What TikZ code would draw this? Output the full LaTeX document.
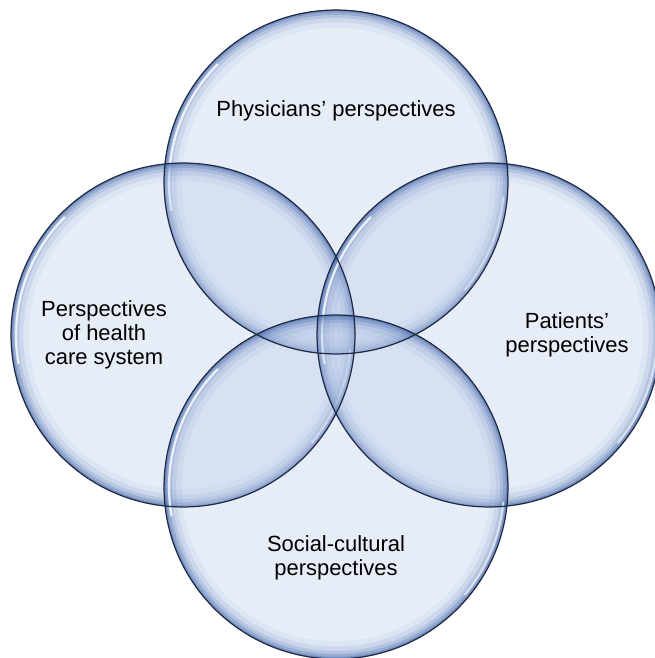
\documentclass[tikz,border=0pt]{standalone}
\usepackage{fontspec}
\setmainfont{Liberation Sans}
\usetikzlibrary{positioning}

\definecolor{ringfill}{RGB}{185,203,233}
\definecolor{ringglow}{RGB}{64,100,170}
\definecolor{ringedge}{RGB}{32,42,66}

\begin{document}
\begin{tikzpicture}[x=0.02cm,y=0.02cm]
  \tikzstyle{ring}=[circle,inner sep=0pt,minimum size=6.88cm,
    fill=ringfill,fill opacity=0.35,
    path picture={
      % soft blue rim on the inside of each circle
      \foreach \w/\o in {20/0.06,14/0.10,9/0.16,5.5/0.24,2.5/0.36}
        \draw[ringglow,line width=\w pt,draw opacity=\o]
          (path picture bounding box.center) circle (3.44cm);
      % white sheen
      \draw[white,line width=1.3pt,draw opacity=0.8]
        ([shift={(135:3.34cm)}]path picture bounding box.center)
        arc[start angle=135,end angle=190,radius=3.34cm];
      \draw[white,line width=1.1pt,draw opacity=0.65]
        ([shift={(-40:3.36cm)}]path picture bounding box.center)
        arc[start angle=-40,end angle=-5,radius=3.36cm];
    }]
  \tikzstyle{rim}=[draw=ringedge,line width=0.7pt]
  \tikzstyle{caption}=[align=center,font=\fontsize{12.5}{13.6}\selectfont]

  \useasboundingbox (0,0) rectangle (654,658);

  \node[ring] (phys) at (336,476) {};
  \node[ring] (sys)  at (183,323) {};
  \node[ring] (pat)  at (489,323) {};
  \node[ring] (soc)  at (336,171) {};

  \foreach \c in {phys,sys,pat,soc}
    \draw[rim] (\c.center) circle (3.44cm);

  \node[caption] (physlbl) at ([yshift=1.42cm]phys.center) {Physicians’ perspectives};
  \node[caption] (syslbl)  at ([xshift=-1.58cm]sys.center) {Perspectives\\of health\\care system};
  \node[caption] (patlbl)  at ([xshift=1.56cm]pat.center)  {Patients’\\perspectives};
  \node[caption] (soclbl)  at ([yshift=-1.42cm]soc.center) {Social-cultural\\perspectives};
\end{tikzpicture}
\end{document}
